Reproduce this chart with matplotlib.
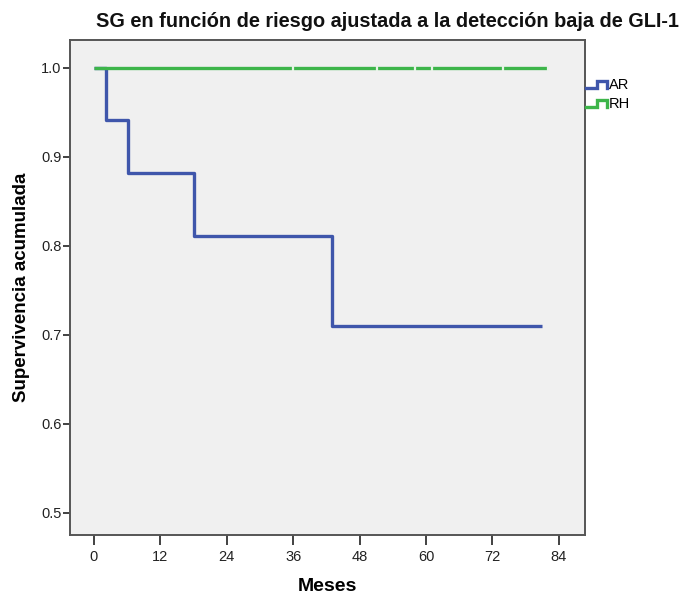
import matplotlib
matplotlib.use("Agg")
import matplotlib.pyplot as plt
from matplotlib.lines import Line2D
from matplotlib.legend_handler import HandlerBase

plt.rcParams['font.family'] = ['Liberation Sans', 'DejaVu Sans']

# Kaplan-Meier survival estimates (months, cumulative survival)
ar_times = [0, 2.2, 6.1, 18.1, 43.0, 81.0]
ar_surv = [1.0, 0.941, 0.882, 0.811, 0.710, 0.710]

rh_times = [0, 82.0]
rh_surv = [1.0, 1.0]
rh_censored = [35.9, 51.1, 58.0, 61.1, 73.9, 82.0]

groups = ["AR", "RH"]
colors = {"AR": "#3f56ab", "RH": "#3db54a"}

x_ticks = [0, 12, 24, 36, 48, 60, 72, 84]
y_ticks = [0.5, 0.6, 0.7, 0.8, 0.9, 1.0]

narrow = ['Liberation Sans Narrow', 'Liberation Sans', 'DejaVu Sans']

fig = plt.figure(figsize=(6.8, 5.94), dpi=100)
ax = fig.add_axes([0.103, 0.099, 0.757, 0.834])
ax.set_facecolor("#f0f0f0")

ax.step(ar_times, ar_surv, where="post", color=colors["AR"], lw=2.4,
        solid_capstyle="butt", zorder=3)
ax.step(rh_times, rh_surv, where="post", color=colors["RH"], lw=2.4,
        solid_capstyle="butt", zorder=3)
ax.plot(rh_censored, [1.0] * len(rh_censored), ls="none", marker="|",
        ms=5, mew=1.6, color="#e8f3e8", zorder=4)

ax.set_xlim(-4.3, 88.7)
ax.set_ylim(0.475, 1.0315)
ax.set_xticks(x_ticks)
ax.set_xticklabels([str(t) for t in x_ticks])
ax.set_yticks(y_ticks)
ax.set_yticklabels([f"{t:.1f}" for t in y_ticks])

for lab in ax.get_xticklabels() + ax.get_yticklabels():
    lab.set_fontfamily(narrow)
    lab.set_fontsize(10.5)

ax.tick_params(axis="x", direction="out", length=7, width=1.3, color="#333333",
               pad=4, labelcolor="#222222")
ax.tick_params(axis="y", direction="out", length=5, width=1.3, color="#333333",
               pad=1, labelcolor="#222222")
for s in ax.spines.values():
    s.set_color("#555555")
    s.set_linewidth(1.4)

ax.set_xlabel("Meses", fontsize=14, fontweight="bold", labelpad=10,
              fontfamily=narrow)
ax.set_ylabel("Supervivencia acumulada", fontsize=13.5, fontweight="bold", labelpad=8,
              fontfamily=narrow)
fig.text(0.57, 0.964, "SG en función de riesgo ajustada a la detección baja de GLI-1",
         ha="center", va="center", fontsize=14.3, fontweight="bold", color="#111111")


class StepHandler(HandlerBase):
    def create_artists(self, legend, orig_handle, xdescent, ydescent,
                       width, height, fontsize, trans):
        x0, x1 = -xdescent, -xdescent + width
        y0, y1 = -ydescent + 0.1 * height, -ydescent + 0.8 * height
        xm = x0 + 0.5 * width
        line = Line2D([x0, xm, xm, x1, x1], [y0, y0, y1, y1, y0],
                      color=orig_handle.get_color(), lw=2.4,
                      solid_joinstyle="miter", transform=trans)
        return [line]


handles = [Line2D([], [], color=colors[g]) for g in groups]
leg = fig.legend(handles, groups, loc="upper left", bbox_to_anchor=(0.862, 0.868),
                 frameon=False, handlelength=1.45, handletextpad=0.1,
                 labelspacing=0.3, borderaxespad=0, borderpad=0,
                 handler_map={Line2D: StepHandler()},
                 prop=dict(family=narrow, size=10.5))

fig.savefig("out.png", dpi=100, facecolor="white")
